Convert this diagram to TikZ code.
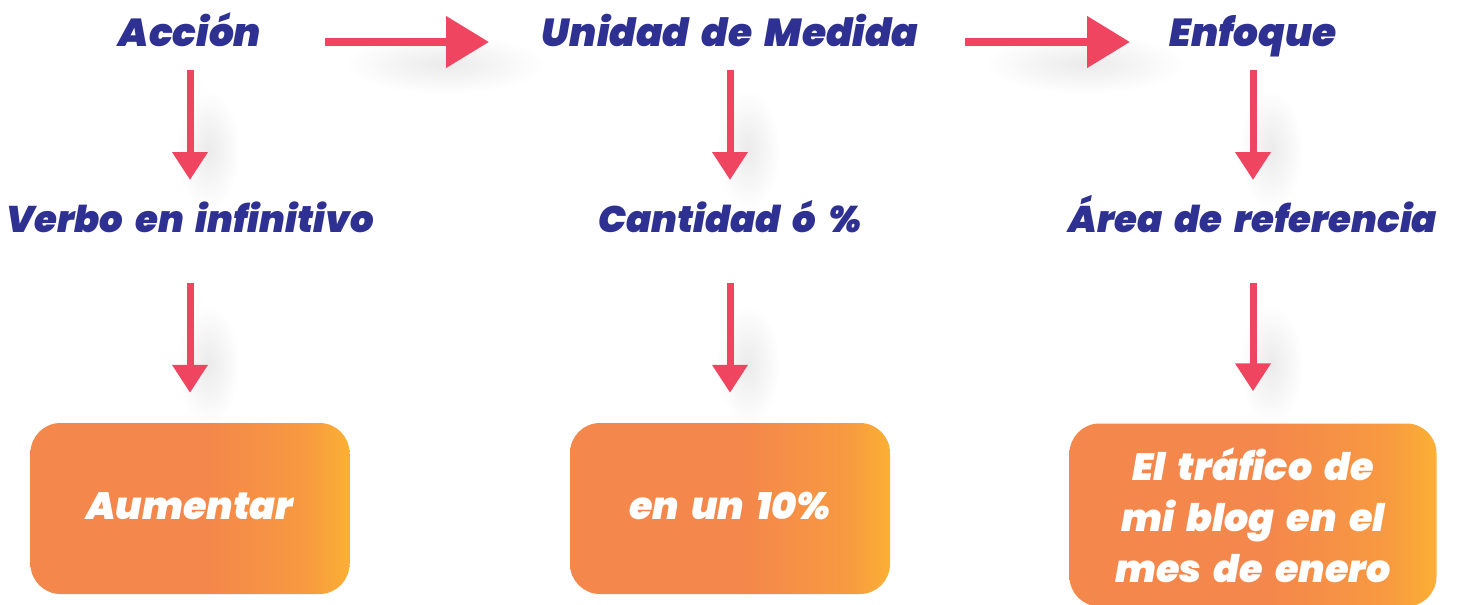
\documentclass[tikz,border=0pt]{standalone}
\usepackage{fontspec}
\setmainfont{Poppins}[BoldItalicFont={* Black Italic}, WordSpace=1.9]
\usetikzlibrary{arrows.meta}
\definecolor{navy}{HTML}{2E3192}
\definecolor{arrowpink}{HTML}{EF4560}
\definecolor{boxorange}{HTML}{F4874B}
\definecolor{boxyellow}{HTML}{FBB034}
\colorlet{boxmid}{boxorange!55!boxyellow}
\pgfdeclarehorizontalshading{boxshade}{100bp}{color(0bp)=(boxorange); color(25bp)=(boxorange); color(52bp)=(boxorange); color(68bp)=(boxmid); color(75bp)=(boxyellow); color(100bp)=(boxyellow)}
\begin{document}
\begin{tikzpicture}[x=1pt,y=-1pt,
  title/.style={anchor=base, text=navy, inner sep=0pt, font=\fontsize{39}{46}\selectfont\bfseries\itshape},
  sublabel/.style={anchor=base, text=navy, inner sep=0pt, font=\fontsize{37}{44}\selectfont\bfseries\itshape},
  resultbox/.style={rounded corners=30pt, shade, shading=boxshade, text=white, align=center, inner sep=0pt,
    font=\fontsize{38}{51}\selectfont\bfseries\itshape},
  harr/.style={draw=arrowpink, line width=8pt, -{Triangle[width=50pt,length=43pt]}},
  varr/.style={draw=arrowpink, line width=7pt, -{Triangle[width=34pt,length=28pt]}},
  glow/.style={inner color=black!8, outer color=white}
]
\useasboundingbox (0,0) rectangle (1462,605);
\fill[white] (0,0) rectangle (1462,605);

% soft shadows
\foreach \sx in {445,1085} {\shade[glow] (\sx,64) ellipse [x radius=100pt, y radius=30pt];}
\foreach \sx in {190,730,1253} {
  \shade[glow] (\sx+18,150) ellipse [x radius=32pt, y radius=60pt];
  \shade[glow] (\sx+18,365) ellipse [x radius=32pt, y radius=60pt];
}

% labels
\node[title] (acc) at (190,46) {Acción};
\node[title] (uni) at (730,46) {Unidad de Medida};
\node[title] (enf) at (1253,46) {Enfoque};
\node[sublabel] (verbo) at (190,232) {Verbo en infinitivo};
\node[sublabel] (cant) at (730,232) {Cantidad ó \%};
\node[sublabel] (area) at (1253,232) {Área de referencia};

% boxes
\node[resultbox, minimum width=319pt, minimum height=171pt, text height=30pt, text depth=9pt] (b1) at (190,508.5) {Aumentar};
\node[resultbox, minimum width=320pt, minimum height=171pt, text height=30pt, text depth=9pt] (b2) at (730,508.5) {en un 10\%};
\node[resultbox, minimum width=367pt, minimum height=183pt] (b3) at (1253,515) {El tráfico de\\mi blog en el\\mes de enero};

% horizontal arrows
\draw[harr, shorten <=135pt, shorten >=241pt] ([yshift=4pt]acc.base) -- ([yshift=4pt]uni.base);
\draw[harr, shorten <=235pt, shorten >=123pt] ([yshift=4pt]uni.base) -- ([yshift=4pt]enf.base);

% vertical arrows
\draw[varr, shorten <=24pt, shorten >=52pt] (acc.base) -- (verbo.base);
\draw[varr, shorten <=24pt, shorten >=52pt] (uni.base) -- (cant.base);
\draw[varr, shorten <=24pt, shorten >=52pt] (enf.base) -- (area.base);
\draw[varr, shorten <=51pt, shorten >=30pt] (verbo.base) -- (b1.north);
\draw[varr, shorten <=51pt, shorten >=30pt] (cant.base) -- (b2.north);
\draw[varr, shorten <=51pt, shorten >=32pt] (area.base) -- (b3.north);
\end{tikzpicture}
\end{document}
